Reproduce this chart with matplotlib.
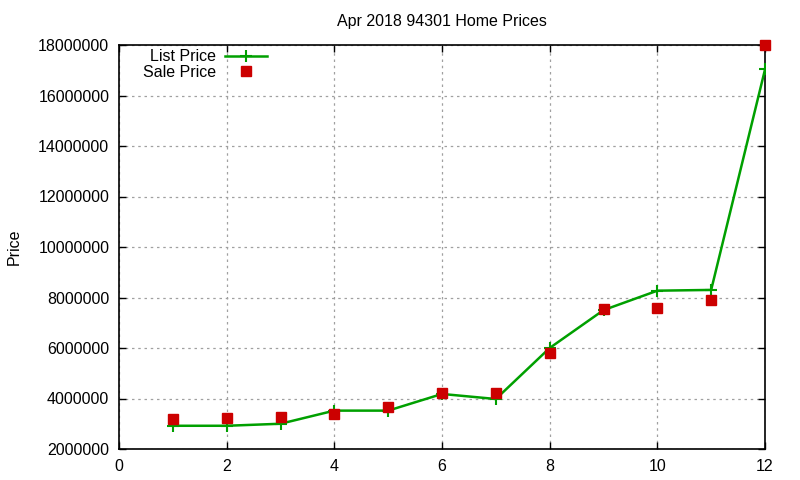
import matplotlib
matplotlib.use("Agg")
import matplotlib.pyplot as plt
from matplotlib.ticker import FuncFormatter

x = [1, 2, 3, 4, 5, 6, 7, 8, 9, 10, 11, 12]
list_price = [2920000, 2920000, 3000000, 3520000, 3520000, 4180000, 3980000,
              6000000, 7500000, 8270000, 8300000, 17030000]
sale_price = [3190000, 3230000, 3270000, 3400000, 3660000, 4220000, 4220000,
              5820000, 7550000, 7600000, 7920000, 18000000]
xticks = [0, 2, 4, 6, 8, 10, 12]
yticks = [2000000, 4000000, 6000000, 8000000, 10000000, 12000000, 14000000, 16000000, 18000000]

plt.rcParams['font.family'] = ['Liberation Sans', 'DejaVu Sans']

fig = plt.figure(figsize=(8, 4.8), dpi=100)
ax = fig.add_axes([119/800, 1-449/480, (765-119)/800, (449-45)/480])

green = '#00a000'
red = '#cc0000'
ax.plot(x, list_price, color=green, lw=1.8, marker='+', markersize=9,
        markeredgewidth=1.5, label='List Price', zorder=3)
ax.plot(x, sale_price, linestyle='none', color=red, marker='s', markersize=6.5,
        label='Sale Price', zorder=4, clip_on=False)

ax.set_xlim(0, 12)
ax.set_ylim(2000000, 18000000)
ax.set_xticks(xticks)
ax.set_yticks(yticks)
ax.yaxis.set_major_formatter(FuncFormatter(lambda v, p: f"{int(v)}"))
ax.tick_params(direction='in', length=5, width=1, top=True, right=True,
               labelsize=11.5, colors='black', pad=7)
for s in ax.spines.values():
    s.set_linewidth(1.2)
    s.set_color('black')
ax.grid(True, color='#a0a0a0', linestyle=(0, (2, 3)), linewidth=0.9)
ax.set_axisbelow(True)

ax.set_title('Apr 2018 94301 Home Prices', fontsize=11.5, pad=14)
ax.set_ylabel('Price', fontsize=11.5, labelpad=12)

leg = ax.legend(loc='upper right', bbox_to_anchor=(270/800, (480-46)/480),
                bbox_transform=fig.transFigure, frameon=False,
                markerfirst=False, fontsize=11.5, handlelength=2.6,
                handletextpad=0.55, labelspacing=0.05, borderaxespad=0.0,
                borderpad=0.2, alignment='right')
for t in leg.get_texts():
    t.set_ha('right')

fig.savefig('out.png', dpi=100)
